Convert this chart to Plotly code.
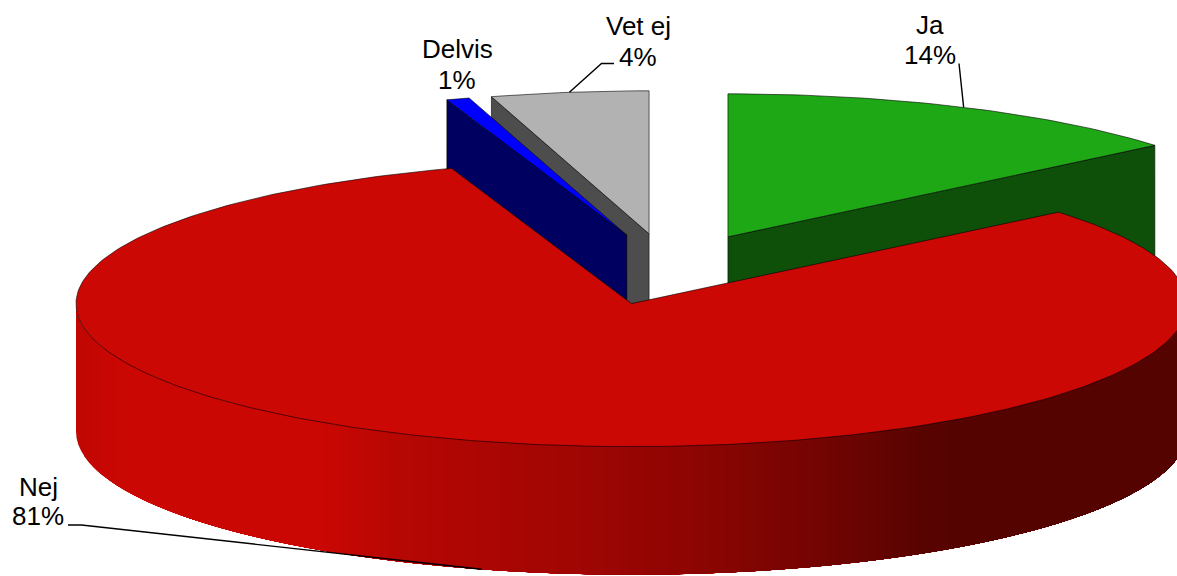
import numpy as np
import plotly.graph_objects as go

# Data
categories = ["Ja", "Nej", "Delvis", "Vet ej"]
values = [13.95, 80.8, 0.67, 4.58]
pct_labels = ["14%", "81%", "1%", "4%"]
top_colors = ["#1EA815", "#CC0804", "#0000FF", "#B2B2B2"]
wall_colors = ["#0E500A", "#550000", "#000060", "#4D4D4D"]

# Pie projection (pixel-space axes)
CX, CY, RX, RY, DEPTH, EXPLODE = 669.0, 269.2, 555.5, 143.0, 128.0, 0.25
W, H = 1177, 576
FONT = "Liberation Sans, Arial, sans-serif"
EDGE = "rgba(0,0,0,0.85)"

# Shading of the rim of the big slice: screen x -> red level
shade_x = [76, 84, 130, 320, 400, 568, 702, 836, 925, 960, 1190]
shade_r = [190, 194, 204, 203, 182, 162, 140, 112, 88, 85, 85]

total = sum(values)
sweeps = [v / total * 2 * np.pi for v in values]
starts = list(np.cumsum([0] + sweeps[:-1]))


def slice_center(i):
    mid = starts[i] + sweeps[i] / 2
    return CX + EXPLODE * RX * np.sin(mid), CY - EXPLODE * RY * np.cos(mid)


def pt(c, th, dz=0.0):
    return c[0] + RX * np.sin(th), c[1] - RY * np.cos(th) + dz


def arc(c, a, b, dz=0.0, n=120):
    t = np.linspace(a, b, n)
    return c[0] + RX * np.sin(t), c[1] - RY * np.cos(t) + dz


def poly(fig, xs, ys, fill, line=EDGE, width=0.7):
    fig.add_trace(go.Scatter(
        x=list(xs), y=list(ys), mode="lines", fill="toself", fillcolor=fill,
        line=dict(color=line if line else fill, width=width if line else 0),
        hoverinfo="skip", showlegend=False))


def top_face(fig, i):
    c = slice_center(i)
    ax, ay = arc(c, starts[i], starts[i] + sweeps[i], n=max(8, int(sweeps[i] * 60)))
    poly(fig, [c[0], *ax, c[0]], [c[1], *ay, c[1]], top_colors[i])


def radial_wall(fig, i, th):
    c = slice_center(i)
    x, y = pt(c, th)
    poly(fig, [c[0], x, x, c[0], c[0]],
         [c[1], y, y + DEPTH, c[1] + DEPTH, c[1]], wall_colors[i])


fig = go.Figure()

# Ja
radial_wall(fig, 0, starts[0] + sweeps[0])
top_face(fig, 0)
# Vet ej
radial_wall(fig, 3, starts[3])
top_face(fig, 3)
# Delvis
radial_wall(fig, 2, starts[2])
top_face(fig, 2)

# Nej: rim, painted in vertical bands from left to right
c1 = slice_center(1)
for xb in np.arange(shade_x[0], shade_x[-1], 8):
    s = np.clip((xb - c1[0]) / RX, -1, 1)
    th_b = np.pi - np.arcsin(s)
    ax, ay = arc(c1, np.pi / 2, th_b, n=70)
    bx, by = arc(c1, th_b, np.pi / 2, dz=DEPTH, n=70)
    r = np.interp(xb + 4, shade_x, shade_r)
    poly(fig, [*ax, *bx], [*ay, *by],
         f"rgb({int(r)},{int(r * 8 / 204)},{int(r * 4 / 204)})", line=None)
top_face(fig, 1)

# Leader lines: from each label elbow to its slice's rim
def anchor(i, dz=0.0):
    return pt(slice_center(i), starts[i] + sweeps[i] / 2, dz)

leaders = {
    0: ([(959, 63.5)], 0.0),
    3: ([(614, 63.5), (601.5, 63.5)], 0.0),
    1: ([(68, 525), (81.5, 525)], DEPTH),
}
for i, (elbows, dz) in leaders.items():
    ex, ey = zip(*elbows)
    ax, ay = anchor(i, dz)
    fig.add_trace(go.Scatter(x=[*ex, ax], y=[*ey, ay], mode="lines",
                             line=dict(color="black", width=1.4),
                             hoverinfo="skip", showlegend=False))

# Labels: (x, name line y, percent line y)
label_pos = {0: (930, 25, 55), 1: (38, 487, 516), 2: (457, 49, 80), 3: (638, 26, 57)}
ann = []
for i, (x, y1, y2) in label_pos.items():
    for txt, y in ((categories[i], y1), (pct_labels[i], y2)):
        ann.append(dict(x=x, y=y, text=txt, showarrow=False, xanchor="center",
                        yanchor="middle", font=dict(family=FONT, size=26, color="black")))

fig.update_layout(
    width=W, height=H, autosize=False,
    margin=dict(l=0, r=0, t=0, b=0),
    paper_bgcolor="white", plot_bgcolor="white",
    xaxis=dict(range=[0, W], visible=False, fixedrange=True),
    yaxis=dict(range=[H, 0], visible=False, fixedrange=True),
    annotations=ann, showlegend=False,
)
fig.write_html("out.html", config={"displayModeBar": False},
               post_script="document.body.style.margin='0';document.body.style.overflow='hidden';")
